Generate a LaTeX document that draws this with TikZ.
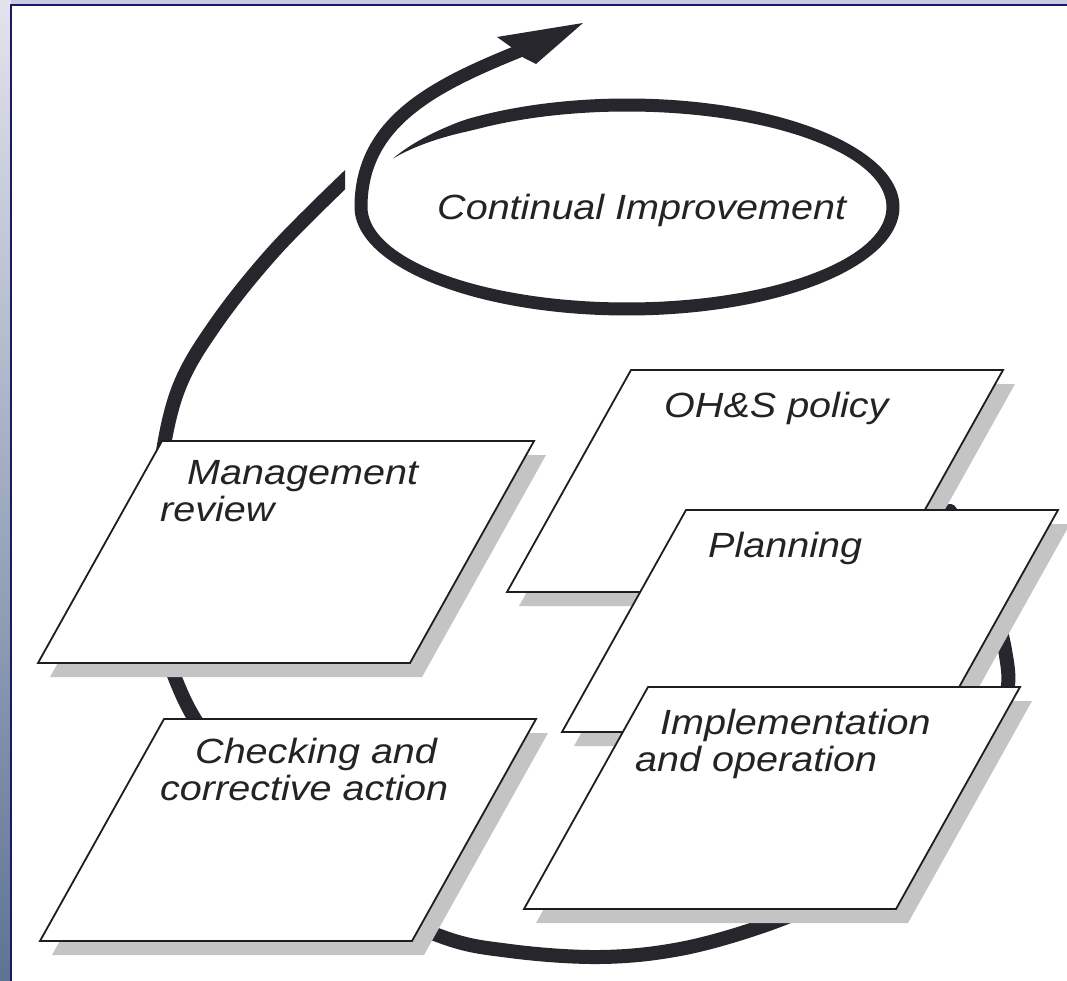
\documentclass[tikz,border=0pt]{standalone}
\usepackage{fontspec}
\setmainfont{Liberation Sans}
\usepackage{graphicx}
\usetikzlibrary{arrows.meta}
\definecolor{ink}{HTML}{26262C}
\definecolor{boxedge}{HTML}{1E1E22}
\definecolor{shadowc}{HTML}{C4C4C4}
\definecolor{navy}{HTML}{191966}
\definecolor{txt}{HTML}{232326}
\definecolor{stripT}{HTML}{E2E3EC}
\definecolor{stripM}{HTML}{8E9CB8}
\definecolor{stripB}{HTML}{5E7394}
\definecolor{topband}{HTML}{C5CBE0}
\newcommand\wide[1]{\scalebox{1.13}[1]{#1}}
\tikzset{
  lbl/.style={font=\fontsize{35}{40}\selectfont\itshape, text=txt, inner sep=0pt, anchor=base west},
  boxline/.style={draw=boxedge, line width=1.8pt, fill=white, line join=miter},
  pics/pbox/.style={code={
     \fill[shadowc] (12,14) -- ++(372,0) -- ++(-124,222) -- ++(-372,0) -- cycle;
     \path[boxline] (0,0) -- ++(372,0) -- ++(-124,222) -- ++(-372,0) -- cycle;
  }},
  loopline/.style={draw=ink, line width=14pt},
}
\begin{document}
\begin{tikzpicture}[x=1pt,y=-1pt]
\useasboundingbox (0,0) rectangle (1067,981);
% background
\fill[topband] (0,0) rectangle (1067,6);
\shade[top color=stripT, middle color=stripM, bottom color=stripB] (0,0) rectangle (11,981);
\fill[white] (11,5) rectangle (1067,981);
\draw[navy, line width=2pt] (11,981) -- (11,5) -- (1067,5);
% big loop (behind boxes)
\begin{scope}
\clip (0,0) -- (345,0) -- (345,300) -- (1067,300) -- (1067,981) -- (0,981) -- cycle;
\draw[loopline, line cap=round] plot[smooth, tension=0.6] coordinates {(950,511) (982,575) (1005,650) (1004,705) (965,790) (895,862) (825,900) (760,927) (680,949) (600,957) (510,951) (440,936) (340,888) (255,805) (205,735) (180,690) (160,630) (152,560) (160,470) (178,390) (215,325) (275,250) (350,175)};
\end{scope}
% ellipse with tapered start
\fill[ink] plot[domain=-151.6:180, samples=140, smooth] ({627+(266+6.5*min(1,(\x+151.6)/25))*cos(\x)}, {207+(102+6.5*min(1,(\x+151.6)/25))*sin(\x)})
  -- plot[domain=180:-151.6, samples=140, smooth] ({627+(266-6.5*min(1,(\x+151.6)/25))*cos(\x)}, {207+(102-6.5*min(1,(\x+151.6)/25))*sin(\x)}) -- cycle;
% spiral out to arrow
\draw[ink, line width=13pt] (361,207) .. controls (361,120) and (438,84) .. (522,50);
\fill[ink] (583,23) -- (497,37) -- (511,47) -- (524,58) -- (536,64) -- cycle;
% boxes
\pic at (631,370) {pbox};
\pic at (686,510) {pbox};
\pic at (648,687) {pbox};
\pic at (162,441) {pbox};
\pic at (164,719) {pbox};
% labels
\node[lbl] (ci) at (437,220) {\wide{Continual Improvement}};
\node[lbl] (ohs) at (664,417) {\wide{OH\&S policy}};
\node[lbl] (pl) at (708,557) {\wide{Planning}};
\node[lbl] (mr1) at (187,484) {\wide{Management}};
\node[lbl] (mr2) at (160,521) {\wide{review}};
\node[lbl] (ca1) at (195,763) {\wide{Checking and}};
\node[lbl] (ca2) at (160,800) {\wide{corrective action}};
\node[lbl] (io1) at (660,734) {\wide{Implementation}};
\node[lbl] (io2) at (635,771) {\wide{and operation}};
\end{tikzpicture}
\end{document}
